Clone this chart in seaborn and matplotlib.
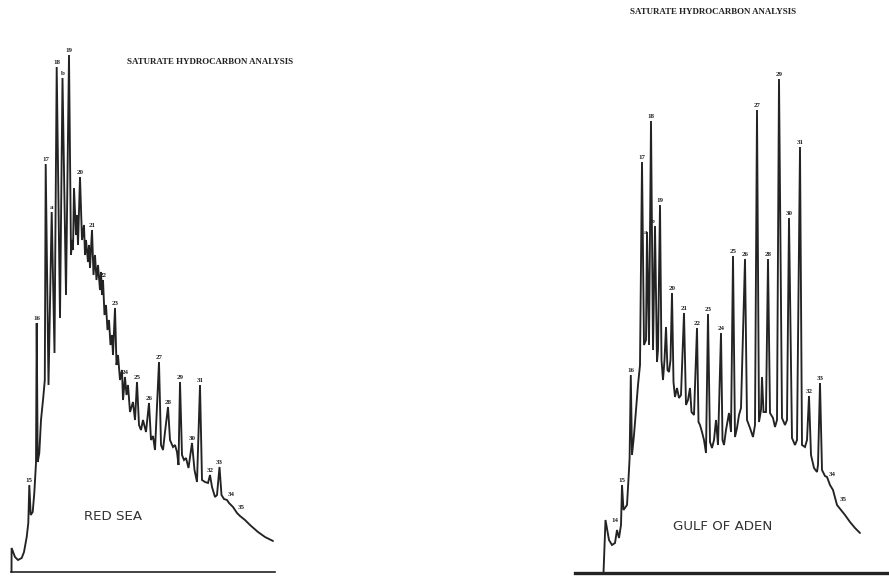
import matplotlib
matplotlib.use("Agg")
import matplotlib.pyplot as plt
import seaborn as sns
import pandas as pd

# ---------------- data (retention position, detector response) ----------------
# RED SEA: labelled / resolved peaks
rs_peak_labels = ["15", "16", "17", "a", "18", "b", "19", "20", "21", "22", "23", "24",
                  "25", "26", "27", "28", "29", "30", "31", "32", "33", "34", "35"]
rs_peak_x = [29.3, 36.7, 45.7, 51.7, 56.7, 62.5, 69, 80, 92, 103, 115, 125,
             137, 149, 159, 168, 180, 192, 200, 210, 219.5, 227, 237]
rs_peak_h = [87, 249, 408, 360, 505, 494, 517, 395, 342, 292, 264, 195,
             190, 169, 210, 165, 190, 129, 187, 97, 105, 72, 59]
# RED SEA: unresolved hump / valleys between peaks
rs_bg_x = [11.5, 11.6, 15, 18, 21.7, 24, 26.7, 28.3, 30.7, 32.7, 34.3, 36, 37.7, 39.3, 41,
           43.3, 44.8, 48.5, 54.5, 60, 66, 71, 72, 73, 74, 76, 77, 78, 82, 84, 85, 86, 88,
           89, 90, 93.5, 95, 96.5, 98, 100, 101, 102, 104.5, 106, 107.5, 109, 110.5, 112,
           113, 116.5, 118, 120, 122, 123, 126.5, 128, 130, 133, 135, 139, 141, 143, 146,
           151, 153, 155, 161, 163, 165, 170, 173, 175, 177, 178.5, 182, 184, 186, 188.5,
           194.5, 197, 202, 205, 208, 212, 215, 217, 221.5, 224, 229, 233, 240, 245, 250,
           258, 265, 273]
rs_bg_h = [0, 24, 15, 12, 14, 20, 35, 49, 57, 60, 79, 109, 110, 119, 152,
           175, 192, 187, 219, 254, 277, 317, 332, 322, 384, 337, 357, 327, 332, 347, 317, 332, 310,
           327, 304, 297, 317, 292, 307, 282, 300, 277, 257, 267, 242, 252, 227, 237,
           217, 207, 217, 192, 202, 172, 177, 187, 160, 170, 152, 147, 142, 152, 140,
           132, 136, 122, 127, 122, 140, 132, 125, 127, 120, 107, 117, 112, 114, 104,
           102, 90, 92, 90, 89, 85, 75, 77, 77, 73, 69, 65, 56, 52, 47,
           40, 35, 31]

# GULF OF ADEN: labelled / resolved peaks
ga_peak_labels = ["14", "15", "16", "17", "a", "18", "b", "19", "20", "21", "22", "23",
                  "24", "25", "26", "27", "28", "29", "30", "31", "32", "33", "34", "35"]
ga_peak_x = [617, 622, 630.8, 642, 647, 651, 655, 660, 672, 684, 697, 708,
             721, 733, 745, 757, 768, 779, 789, 800, 809, 820, 827, 837]
ga_peak_h = [43, 88, 198, 411, 341, 452, 347, 368, 280, 260, 245, 259,
             240, 317, 314, 463, 314, 494, 355, 426, 177, 190, 96, 68]
# GULF OF ADEN: unresolved hump / valleys between peaks
ga_bg_x = [603.5, 605.5, 609, 612, 615, 619, 621, 623.5, 627, 629, 629.6, 632, 634, 636, 638,
           640, 644, 646, 649, 653, 657, 658, 661.5, 663, 664.5, 666, 667.5, 669, 670.5,
           673.5, 675, 677, 679, 681, 686, 688, 690, 691.5, 694, 698.5, 700, 702, 704, 706,
           710, 712, 714, 716, 718, 722.5, 724, 726, 729, 731, 735, 737, 739, 741, 747, 750,
           753, 755, 759, 761, 762, 763.5, 766, 770, 773, 775, 777, 782, 785, 787, 792, 795,
           797, 802, 805, 807, 811, 814, 817, 818, 822, 825, 830, 833, 841, 845, 850, 855, 860]
ga_bg_h = [0, 53, 33, 28, 30, 35, 48, 63, 68, 103, 115, 118, 138, 163, 188,
           208, 228, 233, 228, 223, 211, 223, 213, 193, 213, 246, 203, 201, 213,
           191, 176, 185, 175, 178, 168, 173, 185, 161, 158, 151, 148, 141, 133, 120,
           131, 125, 133, 153, 128, 133, 128, 143, 160, 141, 136, 145, 158, 165, 153, 145,
           136, 148, 151, 163, 196, 161, 161, 160, 155, 146, 153, 155, 148, 153, 135, 128,
           133, 128, 126, 133, 118, 105, 101, 108, 103, 97, 88, 83, 63, 58, 51, 45, 40]

title_text = "SATURATE HYDROCARBON ANALYSIS"
rs_name = "RED SEA"
ga_name = "GULF OF ADEN"

# ---------------- styling ----------------
INK = "#232323"
W, H = 889, 576
sns.set_theme(style="white")
plt.rcParams["font.family"] = ["DejaVu Sans"]

fig = plt.figure(figsize=(W / 100, H / 100), dpi=100)
fig.patch.set_facecolor("white")


def trace_frame(bx, bh, px, ph):
    df = pd.DataFrame({"x": list(bx) + list(px), "h": list(bh) + list(ph)})
    return df.sort_values("x", kind="mergesort").reset_index(drop=True)


def panel(rect, xlim, ylim, bx, bh, labels, px, ph, spine_lw, special):
    ax = fig.add_axes(rect)
    df = trace_frame(bx, bh, px, ph)
    sns.lineplot(data=df, x="x", y="h", sort=False, estimator=None, ax=ax,
                 color=INK, linewidth=1.35)
    for ln in ax.lines:
        ln.set_clip_on(False)
        ln.set_solid_joinstyle("miter")
    ax.set_xlim(*xlim)
    ax.set_ylim(*ylim)
    ax.set_xticks([])
    ax.set_yticks([])
    ax.set_xlabel("")
    ax.set_ylabel("")
    for s in ["left", "right", "top"]:
        ax.spines[s].set_visible(False)
    ax.spines["bottom"].set_color(INK)
    ax.spines["bottom"].set_linewidth(spine_lw)
    ax.patch.set_alpha(0)
    for lab, x, h in zip(labels, px, ph):
        dx, dy = special.get(lab, (0, 1.6))
        ax.annotate(lab, (x, h), xytext=(dx, dy), textcoords="offset points",
                    ha="center", va="bottom", fontsize=5.0, fontweight="bold",
                    family="Liberation Serif", color=INK, annotation_clip=False)
    return ax


ax1 = panel([11 / W, 4 / H, 264 / W, 572 / H], (11, 275), (0, 572),
            rs_bg_x, rs_bg_h, rs_peak_labels, rs_peak_x, rs_peak_h, 1.2,
            {"34": (3, 2), "35": (3, 2)})
ax2 = panel([575 / W, 3 / H, 314 / W, 573 / H], (575, 889), (0, 573),
            ga_bg_x, ga_bg_h, ga_peak_labels, ga_peak_x, ga_peak_h, 2.4,
            {"14": (-1.5, 5), "a": (-1.2, -2), "b": (-1.2, 1.6), "34": (4, 0), "35": (4.5, 2)})

fig.text(210 / W, 1 - 62 / H, title_text, ha="center", va="center", fontsize=6.4,
         fontweight="bold", family="Liberation Serif", color=INK)
fig.text(713 / W, 1 - 12 / H, title_text, ha="center", va="center", fontsize=6.4,
         fontweight="bold", family="Liberation Serif", color=INK)

fig.text(113 / W, 1 - 517 / H, rs_name, ha="center", va="center", fontsize=9.6,
         family="DejaVu Sans", color="#333333")
fig.text(723 / W, 1 - 527 / H, ga_name, ha="center", va="center", fontsize=9.6,
         family="DejaVu Sans", color="#333333")

fig.savefig("out.png", dpi=100, facecolor="white")
